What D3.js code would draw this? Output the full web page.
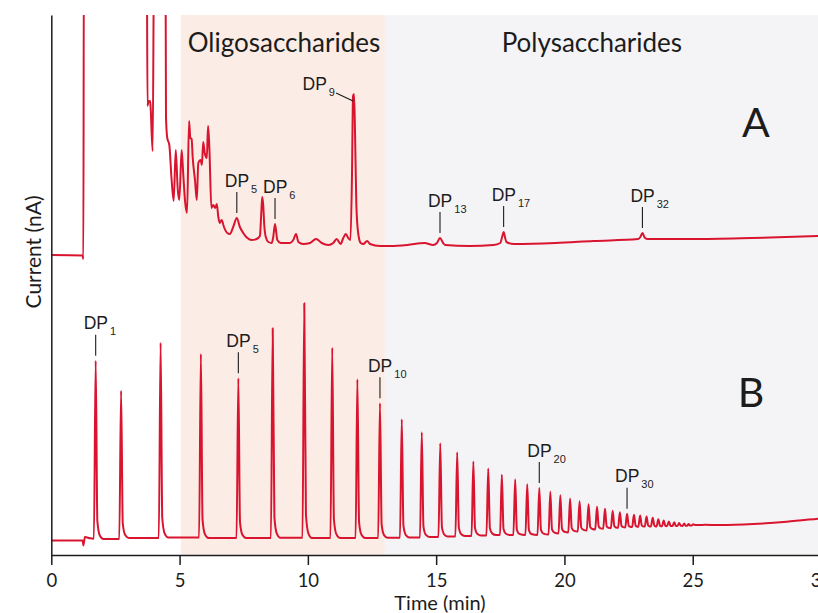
<!DOCTYPE html>
<html>
<head>
<meta charset="utf-8">
<script src="https://cdn.jsdelivr.net/npm/d3@7"></script>
<style>
  body { margin: 0; background: #fff; }
  svg { display: block; }
</style>
</head>
<body>
<div id="chart"></div>
<script>
// shaded regions (minutes)
const regionNames = ['Oligosaccharides', 'Polysaccharides'];
const regionStart = [5.05, 13.0];
const regionEnd = [13.0, 31];
const regionLabelTime = [9.07, 21.07];

const timeTicks = [0, 5, 10, 15, 20, 25, 30];

// trace A, [time (min), current]
const traceA = [
  [0, 30.0], [1.22, 29.95], [1.25, 29.6], [1.27, 62], [3.72, 62], [3.75, 44.9], [3.78, 45.3],
  [3.85, 45.4], [3.87, 44.8], [3.95, 40.4], [4.01, 62], [4.45, 62], [4.47, 43.8], [4.52, 41.7],
  [4.60, 41.0], [4.69, 37.5], [4.77, 35.4], [4.85, 40.5], [4.93, 36.5], [4.99, 35.5], [5.08, 40.5],
  [5.14, 38.2], [5.22, 35.2], [5.29, 34.2], [5.37, 43.4], [5.42, 41.7], [5.47, 41.6], [5.51, 39.8],
  [5.60, 37.5], [5.67, 35.5], [5.73, 39.2], [5.82, 39.5], [5.87, 39.0], [5.92, 41.3], [5.98, 40.2],
  [6.06, 39.7], [6.11, 42.9], [6.16, 40.8], [6.24, 34.7], [6.31, 35.0], [6.39, 34.7], [6.45, 35.1],
  [6.51, 33.8], [6.57, 33.2], [6.64, 33.5], [6.73, 32.8], [6.86, 32.2], [6.96, 32.1], [7.09, 32.8],
  [7.23, 33.7], [7.35, 32.8], [7.48, 32.2], [7.64, 31.7], [7.81, 31.5], [8.00, 31.6], [8.13, 31.9],
  [8.18, 34.0], [8.22, 35.8], [8.26, 35.0], [8.30, 33.0], [8.36, 31.8], [8.46, 31.3], [8.59, 31.2],
  [8.65, 31.8], [8.72, 33.1], [8.81, 31.5], [8.94, 31.2], [9.17, 31.2], [9.30, 31.2], [9.43, 31.5],
  [9.54, 32.1], [9.63, 31.3], [9.82, 31.1], [10.08, 31.2], [10.32, 31.6], [10.54, 31.2], [10.80, 31.0],
  [10.99, 31.2], [11.12, 31.6], [11.28, 31.1], [11.38, 31.7], [11.48, 32.1], [11.57, 31.7], [11.66, 31.5],
  [11.72, 38.0], [11.76, 45.9], [11.80, 46.1], [11.84, 42.0], [11.89, 35.0], [11.96, 32.2], [12.06, 31.2],
  [12.16, 31.1], [12.31, 31.4], [12.42, 31.1], [12.81, 30.9], [13.21, 30.9], [13.88, 31.0], [14.55, 31.2],
  [14.88, 31.0], [15.03, 31.2], [15.15, 31.7], [15.27, 31.2], [15.35, 31.0], [16.29, 30.9], [17.23, 31.0],
  [17.50, 31.2], [17.58, 31.9], [17.63, 32.3], [17.69, 31.7], [17.74, 31.3], [18.04, 31.1], [19.65, 31.2],
  [21.13, 31.4], [22.87, 31.6], [22.96, 31.8], [23.04, 32.2], [23.14, 31.7], [23.25, 31.6], [25.02, 31.6],
  [27.30, 31.7], [30.0, 31.9]
];

// trace B: baseline before DP1, the DP1..DP42 peaks, baseline after
const bLead = [[0, 1.45], [1.22, 1.45], [1.25, 0.95], [1.31, 1.8], [1.51, 1.67], [1.64, 1.63]];
const bPeakTime = [1.73, 2.72, 4.26, 5.83, 7.29, 8.63, 9.86, 10.95, 11.93, 12.81,
  13.66, 14.44, 15.16, 15.82, 16.45, 17.03, 17.56, 18.08, 18.55, 19.02,
  19.45, 19.84, 20.22, 20.59, 20.94, 21.27, 21.58, 21.88, 22.16, 22.44,
  22.71, 22.95, 23.20, 23.44, 23.66, 23.87, 24.07, 24.28, 24.47, 24.67, 24.84, 25.02];
const bPeakHeight = [19.43, 16.43, 21.23, 20.10, 17.67, 22.67, 25.17, 20.73, 17.57, 15.17,
  13.57, 12.27, 11.17, 10.27, 9.35, 8.65, 8.03, 7.57, 7.08, 6.70,
  6.32, 5.98, 5.65, 5.37, 5.08, 4.83, 4.63, 4.42, 4.27, 4.12,
  4.02, 3.95, 3.85, 3.72, 3.58, 3.45, 3.35, 3.28, 3.20, 3.14, 3.10, 3.07];
const bValley = [1.6, 1.7, 1.75, 1.7, 1.7, 1.72, 1.7, 1.7, 1.7, 1.72,
  1.75, 1.8, 1.85, 1.9, 1.95, 2.0, 2.0, 2.0, 2.0, 2.05,
  2.15, 2.25, 2.35, 2.45, 2.55, 2.62, 2.68, 2.72, 2.76, 2.8,
  2.82, 2.84, 2.85, 2.86, 2.87, 2.88, 2.89, 2.9, 2.91, 2.92, 2.94, 3.0];
const bTail = [[25.45, 3.02], [26.06, 3.0], [27.36, 3.1], [28.66, 3.33], [29.88, 3.63], [30.0, 3.66]];

// DP annotations
const aLabelDP = [5, 6, 13, 17, 32];
const aLabelTime = [7.23, 8.72, 15.15, 17.63, 23.04];
const aLeaderDP = 9;
const aLeaderTime = 11.8;
const bLabelDP = [1, 5, 10, 20, 30];

const width = 818, height = 613;
const red = '#d9142f';
const ink = '#1c1c1c';

const x = d3.scaleLinear().domain([0, 30]).range([51.3, 821]);
const y = d3.scaleLinear().domain([0, 54]).range([555, 15]);

const svg = d3.select('#chart').append('svg')
  .attr('width', width)
  .attr('height', height);

svg.append('defs').append('clipPath')
  .attr('id', 'plot-clip')
  .append('rect')
  .attr('x', x(0))
  .attr('y', y(54))
  .attr('width', width - x(0))
  .attr('height', y(0) - y(54));

// shaded bands
svg.append('g')
  .selectAll('rect')
  .data(regionNames)
  .join('rect')
    .attr('x', (d, i) => x(regionStart[i]))
    .attr('y', y(54))
    .attr('width', (d, i) => x(regionEnd[i]) - x(regionStart[i]))
    .attr('height', y(0) - y(54))
    .attr('fill', (d, i) => ['#fbece6', '#f4f4f7'][i]);

svg.append('g')
  .selectAll('text')
  .data(regionNames)
  .join('text')
    .attr('x', (d, i) => x(regionLabelTime[i]))
    .attr('y', 52)
    .attr('text-anchor', 'middle')
    .attr('font-family', 'Lato, "Open Sans", sans-serif')
    .attr('font-size', 26)
    .attr('fill', ink)
    .text(d => d);

// trace B built from its peak table
function buildB() {
  const pts = bLead.slice();
  bPeakTime.forEach((t, i) => {
    const h = bPeakHeight[i], v = bValley[i];
    const prevV = i ? bValley[i - 1] : pts[pts.length - 1][1];
    const gPrev = i ? t - bPeakTime[i - 1] : 1;
    const gNext = i < bPeakTime.length - 1 ? bPeakTime[i + 1] - t : 1;
    pts.push([t - Math.min(0.07, 0.35 * gPrev), prevV]);
    pts.push([t, h]);
    pts.push([t + Math.min(0.065, 0.3 * gNext), v + 0.1 * (h - v)]);
    pts.push([t + Math.min(0.16, 0.45 * gNext), v + 0.02 * (h - v)]);
    if (gNext > 0.5) pts.push([t + 0.3, v]);
  });
  return pts.concat(bTail);
}
const traceB = buildB();

const line = d3.line()
  .x(d => x(d[0]))
  .y(d => y(d[1]))
  .curve(d3.curveMonotoneX);

const traces = svg.append('g').attr('clip-path', 'url(#plot-clip)');
traces.selectAll('path')
  .data([traceA, traceB])
  .join('path')
    .attr('d', line)
    .attr('fill', 'none')
    .attr('stroke', red)
    .attr('stroke-width', 2)
    .attr('stroke-linejoin', 'round');

// axes
const xAxis = d3.axisBottom(x)
  .tickValues(timeTicks)
  .tickSize(10)
  .tickSizeOuter(0)
  .tickPadding(9);
const gx = svg.append('g')
  .attr('transform', `translate(0, ${y(0)})`)
  .call(xAxis);
gx.selectAll('path, line').attr('stroke', ink).attr('stroke-width', 1.5);
gx.selectAll('text')
  .attr('font-family', 'Lato, "Open Sans", sans-serif')
  .attr('font-size', 18.5)
  .attr('fill', ink);

const gy = svg.append('g')
  .attr('transform', `translate(${x(0)}, 0)`)
  .call(d3.axisLeft(y).tickValues([]).tickSizeOuter(0));
gy.select('path').attr('stroke', ink).attr('stroke-width', 1.5);

svg.append('text')
  .attr('x', 440)
  .attr('y', 610)
  .attr('text-anchor', 'middle')
  .attr('font-family', 'Lato, "Open Sans", sans-serif')
  .attr('font-size', 20)
  .attr('fill', ink)
  .text('Time (min)');

svg.append('text')
  .attr('transform', 'translate(41, 252) rotate(-90)')
  .attr('text-anchor', 'middle')
  .attr('font-family', 'Lato, "Open Sans", sans-serif')
  .attr('font-size', 21)
  .attr('fill', ink)
  .text('Current (nA)');

// panel letters
svg.append('g')
  .selectAll('text')
  .data(['A', 'B'])
  .join('text')
    .attr('x', (d, i) => [756, 751][i])
    .attr('y', (d, i) => [137, 407][i])
    .attr('text-anchor', 'middle')
    .attr('font-family', 'Lato, "Open Sans", sans-serif')
    .attr('font-size', 41)
    .attr('fill', ink)
    .text(d => d);

// DP labels
const labels = svg.append('g')
  .attr('font-family', '"Liberation Sans", Arial, sans-serif')
  .attr('fill', ink);

function dpText(px, py, n) {
  const t = labels.append('text').attr('x', px).attr('y', py).attr('font-size', 17.5);
  t.append('tspan').text('DP');
  t.append('tspan').attr('dx', 2).attr('dy', 6).attr('font-size', 11).text(n);
}

function dpTick(t, v, n) {
  const px = x(t), bottom = y(v) - 5, top = bottom - 21;
  labels.append('line')
    .attr('x1', px).attr('x2', px)
    .attr('y1', bottom).attr('y2', top)
    .attr('stroke', ink).attr('stroke-width', 1.1);
  dpText(px - 12, top - 5.5, n);
}

function apexA(t) {
  return d3.max(traceA.filter(d => Math.abs(d[0] - t) < 0.06), d => d[1]);
}

aLabelDP.forEach((n, i) => dpTick(aLabelTime[i], apexA(aLabelTime[i]), n));
bLabelDP.forEach(n => dpTick(bPeakTime[n - 1], bPeakHeight[n - 1], n));

// DP9 on trace A uses a slanted leader
const lx = x(aLeaderTime), ly = y(apexA(aLeaderTime));
labels.append('line')
  .attr('x1', lx - 18).attr('y1', ly - 1)
  .attr('x2', lx - 1).attr('y2', ly + 7)
  .attr('stroke', ink).attr('stroke-width', 1.1);
dpText(lx - 51.5, ly - 4, aLeaderDP);
</script>
</body>
</html>
